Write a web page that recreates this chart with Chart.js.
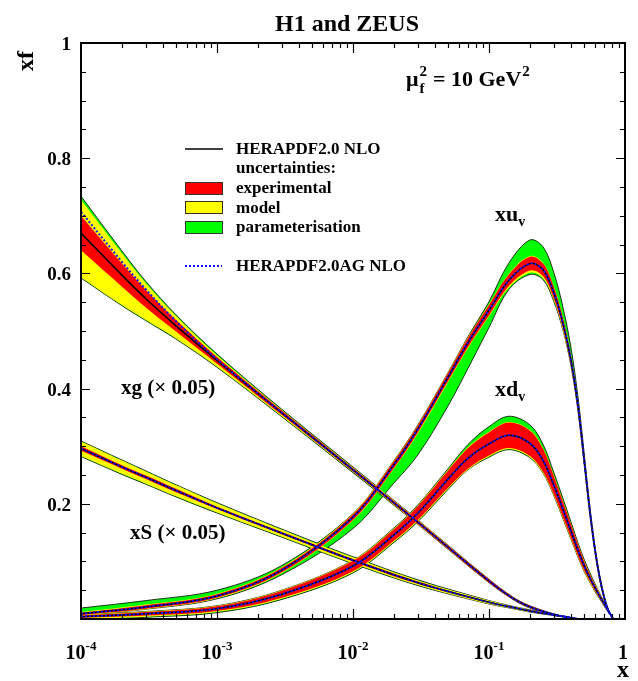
<!DOCTYPE html>
<html>
<head>
<meta charset="utf-8">
<script src="https://cdn.jsdelivr.net/npm/chart.js@4"></script>
<style>
  body { margin: 0; background: #fff; }
  canvas { display: block; }
</style>
</head>
<body>
<canvas id="pdfChart" width="638" height="681"></canvas>
<script>
// x grids
const xValence = [0.0001, 0.0003, 0.001, 0.003, 0.01, 0.02, 0.03, 0.05, 0.07, 0.1, 0.14, 0.2, 0.25, 0.3, 0.35, 0.4, 0.45, 0.5, 0.55, 0.6, 0.65, 0.7, 0.75, 0.8, 0.82];
const xSea = [0.0001, 0.0002, 0.0003, 0.0005, 0.001, 0.003, 0.01, 0.03, 0.1, 0.15, 0.2, 0.3, 0.45];

// xu_v : central value and distances to band edges
const uvCentral = [0.009, 0.021, 0.040, 0.085, 0.177, 0.268, 0.330, 0.420, 0.480, 0.536, 0.588, 0.617, 0.606, 0.566, 0.513, 0.450, 0.372, 0.278, 0.190, 0.122, 0.073, 0.039, 0.016, 0.0045, 0];
const uvExp   = [0.002, 0.003, 0.003, 0.004, 0.005, 0.006, 0.006, 0.007, 0.008, 0.009, 0.010, 0.012, 0.011, 0.010, 0.009, 0.008, 0.007, 0.006, 0.005, 0.004, 0.003, 0.002, 0.001, 0.0005, 0];
const uvModUp = [0.003, 0.004, 0.004, 0.005, 0.006, 0.007, 0.007, 0.008, 0.009, 0.010, 0.011, 0.013, 0.012, 0.011, 0.010, 0.009, 0.008, 0.007, 0.006, 0.005, 0.004, 0.003, 0.002, 0.001, 0];
const uvModDn = [0.003, 0.004, 0.004, 0.005, 0.006, 0.007, 0.008, 0.009, 0.010, 0.011, 0.013, 0.016, 0.015, 0.013, 0.012, 0.010, 0.009, 0.008, 0.006, 0.005, 0.004, 0.003, 0.002, 0.001, 0];
const uvTotUp = [0.010, 0.011, 0.010, 0.008, 0.006, 0.007, 0.007, 0.008, 0.010, 0.015, 0.030, 0.041, 0.040, 0.035, 0.028, 0.022, 0.016, 0.012, 0.008, 0.006, 0.004, 0.003, 0.002, 0.001, 0];
const uvTotDn = [0.003, 0.004, 0.005, 0.008, 0.020, 0.032, 0.045, 0.050, 0.045, 0.030, 0.016, 0.019, 0.017, 0.015, 0.012, 0.010, 0.009, 0.008, 0.006, 0.005, 0.004, 0.003, 0.002, 0.001, 0];

// xd_v
const dvCentral = [0.004, 0.009, 0.018, 0.043, 0.092, 0.146, 0.184, 0.243, 0.279, 0.304, 0.319, 0.305, 0.275, 0.232, 0.190, 0.153, 0.120, 0.093, 0.072, 0.055, 0.040, 0.027, 0.015, 0.004, 0];
const dvExp   = [0.002, 0.003, 0.004, 0.006, 0.009, 0.010, 0.012, 0.015, 0.018, 0.020, 0.022, 0.022, 0.020, 0.016, 0.014, 0.012, 0.010, 0.008, 0.006, 0.005, 0.004, 0.003, 0.002, 0.001, 0];
const dvModUp = [0.003, 0.004, 0.005, 0.007, 0.010, 0.011, 0.013, 0.016, 0.019, 0.021, 0.023, 0.023, 0.021, 0.017, 0.015, 0.013, 0.011, 0.009, 0.007, 0.006, 0.005, 0.004, 0.003, 0.001, 0];
const dvModDn = [0.004, 0.005, 0.006, 0.008, 0.011, 0.012, 0.014, 0.017, 0.020, 0.022, 0.024, 0.024, 0.022, 0.018, 0.016, 0.014, 0.012, 0.010, 0.008, 0.007, 0.005, 0.004, 0.003, 0.001, 0];
const dvTotUp = [0.003, 0.004, 0.005, 0.007, 0.010, 0.012, 0.014, 0.018, 0.024, 0.030, 0.033, 0.032, 0.028, 0.022, 0.019, 0.016, 0.013, 0.011, 0.009, 0.007, 0.005, 0.004, 0.003, 0.001, 0];
const dvTotDn = [0.005, 0.006, 0.007, 0.009, 0.012, 0.013, 0.015, 0.018, 0.020, 0.023, 0.025, 0.025, 0.022, 0.018, 0.016, 0.014, 0.012, 0.010, 0.008, 0.007, 0.005, 0.004, 0.003, 0.001, 0];

// xg (x 0.05)
const gCentral = [0.670, 0.597, 0.556, 0.509, 0.449, 0.358, 0.259, 0.168, 0.066, 0.036, 0.021, 0.008, 0];
const gAG      = [0.707, 0.620, 0.572, 0.517, 0.451, 0.358, 0.259, 0.168, 0.066, 0.036, 0.021, 0.008, 0];
const gExp   = [0.030, 0.020, 0.015, 0.010, 0.006, 0.004, 0.003, 0.003, 0.003, 0.002, 0.002, 0.001, 0];
const gModUp = [0.058, 0.038, 0.027, 0.017, 0.009, 0.005, 0.004, 0.004, 0.003, 0.002, 0.002, 0.001, 0];
const gModDn = [0.077, 0.052, 0.037, 0.022, 0.011, 0.006, 0.004, 0.004, 0.003, 0.002, 0.002, 0.001, 0];
const gTotUp = [0.064, 0.042, 0.030, 0.019, 0.011, 0.006, 0.005, 0.004, 0.003, 0.002, 0.002, 0.001, 0];
const gTotDn = [0.078, 0.053, 0.038, 0.023, 0.012, 0.007, 0.005, 0.004, 0.003, 0.002, 0.002, 0.001, 0];

// xS (x 0.05)
const sCentral = [0.296, 0.264, 0.246, 0.223, 0.193, 0.149, 0.102, 0.063, 0.029, 0.020, 0.014, 0.007, 0];
const sExp   = [0.004, 0.003, 0.003, 0.003, 0.002, 0.002, 0.002, 0.002, 0.001, 0.001, 0.001, 0.0005, 0];
const sModUp = [0.012, 0.011, 0.010, 0.009, 0.008, 0.006, 0.005, 0.004, 0.003, 0.002, 0.002, 0.001, 0];
const sModDn = [0.013, 0.012, 0.011, 0.010, 0.008, 0.006, 0.005, 0.004, 0.003, 0.002, 0.002, 0.001, 0];
const sTotUp = [0.013, 0.012, 0.011, 0.010, 0.009, 0.007, 0.006, 0.005, 0.003, 0.002, 0.002, 0.001, 0];
const sTotDn = [0.014, 0.013, 0.012, 0.011, 0.009, 0.007, 0.006, 0.005, 0.003, 0.002, 0.002, 0.001, 0];

// axis ticks
const yTicks = [0.2, 0.4, 0.6, 0.8, 1];
const yTickLabels = ['0.2', '0.4', '0.6', '0.8', '1'];
const xTicks = [0.0001, 0.001, 0.01, 0.1, 1];
const xTickExp = ['-4', '-3', '-2', '-1', ''];

const SERIF = '"Liberation Serif", "Times New Roman", serif';
const RED = '#ff0000', YELLOW = '#ffff00', GREEN = '#00ff00', BLUE = '#1010ff';

function pts(xs, c, d, sign) {
  return xs.map((x, i) => ({ x, y: c[i] + sign * (d ? d[i] : 0) }));
}

function band(xs, c, up, dn, color, order, edge) {
  const base = {
    pointRadius: 0,
    tension: 0.35,
    borderColor: edge ? '#000' : 'transparent',
    borderWidth: edge ? 0.8 : 1,
  };
  return [
    { ...base, data: pts(xs, c, up, 1), backgroundColor: color, fill: '+1', order },
    { ...base, data: pts(xs, c, dn, -1), fill: false, order: order - 1 }
  ];
}

function curve(xs, c, color, order, dash) {
  return {
    data: pts(xs, c, null, 0),
    pointRadius: 0,
    tension: 0.35,
    borderColor: color,
    borderWidth: dash ? 2 : 1.5,
    borderDash: dash || [],
    fill: false,
    order
  };
}

const pdfs = [
  [xValence, uvCentral, uvCentral, uvExp, uvModUp, uvModDn, uvTotUp, uvTotDn],
  [xValence, dvCentral, dvCentral, dvExp, dvModUp, dvModDn, dvTotUp, dvTotDn],
  [xSea, gCentral, gAG, gExp, gModUp, gModDn, gTotUp, gTotDn],
  [xSea, sCentral, sCentral, sExp, sModUp, sModDn, sTotUp, sTotDn]
];

const datasets = [];
pdfs.forEach(([xs, c, ag, ex, mu, md, tu, td]) => {
  datasets.push(...band(xs, c, tu, td, GREEN, 60, true));
  datasets.push(...band(xs, c, mu, md, YELLOW, 50, false));
  datasets.push(...band(xs, c, ex, ex, RED, 40, false));
  datasets.push(curve(xs, c, '#000', 20));
  datasets.push(curve(xs, ag, BLUE, 10, [2, 2]));
});

function font(size) { return 'bold ' + size + 'px ' + SERIF; }

// text with a sub/superscript piece, returns end x
function richText(ctx, x, y, parts) {
  parts.forEach(p => {
    ctx.font = font(p.size);
    ctx.fillText(p.t, x, y + (p.dy || 0));
    if (!p.keep) x += ctx.measureText(p.t).width;
  });
  return x;
}

const framePlugin = {
  id: 'frame',
  afterDraw(chart) {
    const { ctx, chartArea: a, scales: { x, y } } = chart;
    ctx.save();
    ctx.fillStyle = '#000';
    ctx.strokeStyle = '#000';

    // frame and ticks
    ctx.lineWidth = 2;
    ctx.strokeRect(a.left, a.top, a.right - a.left, a.bottom - a.top);
    ctx.lineWidth = 1.2;
    ctx.beginPath();
    for (let k = 1; k < 20; k++) {
      const py = Math.round(y.getPixelForValue(k * 0.05)) + 0.5;
      const len = k % 4 === 0 ? 9 : 5;
      ctx.moveTo(a.left, py); ctx.lineTo(a.left + len, py);
      ctx.moveTo(a.right, py); ctx.lineTo(a.right - len, py);
    }
    for (let d = -4; d < 0; d++) {
      for (let m = 1; m <= 9; m++) {
        if (d === -4 && m === 1) continue;
        const px = Math.round(x.getPixelForValue(m * Math.pow(10, d))) + 0.5;
        const len = m === 1 ? 10 : 5;
        ctx.moveTo(px, a.bottom); ctx.lineTo(px, a.bottom - len);
        ctx.moveTo(px, a.top); ctx.lineTo(px, a.top + len);
      }
    }
    ctx.stroke();

    // y tick labels
    ctx.font = font(19);
    ctx.textAlign = 'right';
    ctx.textBaseline = 'middle';
    yTicks.forEach((v, i) => ctx.fillText(yTickLabels[i], 71, y.getPixelForValue(v) + 2));

    // x tick labels
    ctx.textAlign = 'left';
    ctx.textBaseline = 'alphabetic';
    xTicks.forEach((v, i) => {
      const px = x.getPixelForValue(v);
      if (!xTickExp[i]) {
        ctx.font = font(20);
        ctx.textAlign = 'center';
        ctx.fillText('1', px - 2, 659);
        ctx.textAlign = 'left';
        return;
      }
      ctx.font = font(20);
      const w1 = ctx.measureText('10').width;
      ctx.font = font(13);
      const w2 = ctx.measureText(xTickExp[i]).width;
      const x0 = px - (w1 + w2) / 2;
      richText(ctx, x0, 659, [{ t: '10', size: 20 }, { t: xTickExp[i], size: 13, dy: -9 }]);
    });

    // axis titles
    ctx.font = font(24);
    ctx.fillText('x', 617, 677);
    ctx.save();
    ctx.translate(33, 61);
    ctx.rotate(-Math.PI / 2);
    ctx.textAlign = 'center';
    ctx.fillText('xf', 0, 0);
    ctx.restore();

    // title
    ctx.font = font(24);
    ctx.textAlign = 'center';
    ctx.fillText('H1 and ZEUS', 347, 31);
    ctx.textAlign = 'left';

    // scale label
    let sx = richText(ctx, 406, 86, [{ t: 'μ', size: 22 }]);
    richText(ctx, sx + 1, 86, [{ t: '2', size: 15, dy: -10, keep: true }]);
    richText(ctx, sx + 1, 86, [{ t: 'f', size: 15, dy: 7 }]);
    sx = richText(ctx, sx + 9, 86, [{ t: ' = 10 GeV', size: 22 }]);
    richText(ctx, sx + 1, 86, [{ t: '2', size: 15, dy: -10 }]);

    // curve labels
    richText(ctx, 495, 221, [{ t: 'xu', size: 22 }, { t: 'v', size: 14, dy: 5 }]);
    richText(ctx, 495, 396, [{ t: 'xd', size: 22 }, { t: 'v', size: 14, dy: 5 }]);
    richText(ctx, 121, 394, [{ t: 'xg (× 0.05)', size: 21 }]);
    richText(ctx, 130, 539, [{ t: 'xS (× 0.05)', size: 21 }]);

    // legend
    ctx.lineWidth = 1.5;
    ctx.beginPath(); ctx.moveTo(185, 149); ctx.lineTo(223, 149); ctx.stroke();
    [[RED, 182], [YELLOW, 201], [GREEN, 221]].forEach(([c, by]) => {
      ctx.fillStyle = c;
      ctx.fillRect(185, by, 38, 13);
      ctx.strokeStyle = '#333';
      ctx.lineWidth = 1;
      ctx.strokeRect(185.5, by + 0.5, 37, 12);
    });
    ctx.strokeStyle = BLUE;
    ctx.lineWidth = 2;
    ctx.setLineDash([2, 2]);
    ctx.beginPath(); ctx.moveTo(185, 266); ctx.lineTo(222, 266); ctx.stroke();
    ctx.setLineDash([]);
    ctx.fillStyle = '#000';
    ctx.font = font(17);
    ctx.fillText('HERAPDF2.0 NLO', 236, 154);
    ctx.fillText('uncertainties:', 236, 173);
    ctx.fillText('experimental', 236, 193);
    ctx.fillText('model', 236, 213);
    ctx.fillText('parameterisation', 236, 232);
    ctx.fillText('HERAPDF2.0AG NLO', 236, 271);
    ctx.restore();
  }
};

new Chart(document.getElementById('pdfChart'), {
  type: 'line',
  data: { datasets },
  options: {
    responsive: false,
    animation: false,
    layout: { padding: { left: 81, right: 13, top: 43, bottom: 62 } },
    plugins: {
      legend: { display: false },
      tooltip: { enabled: false },
      title: { display: false }
    },
    scales: {
      x: { type: 'logarithmic', min: 0.0001, max: 1, display: false },
      y: { min: 0, max: 1, display: false }
    }
  },
  plugins: [framePlugin]
});
</script>
</body>
</html>
